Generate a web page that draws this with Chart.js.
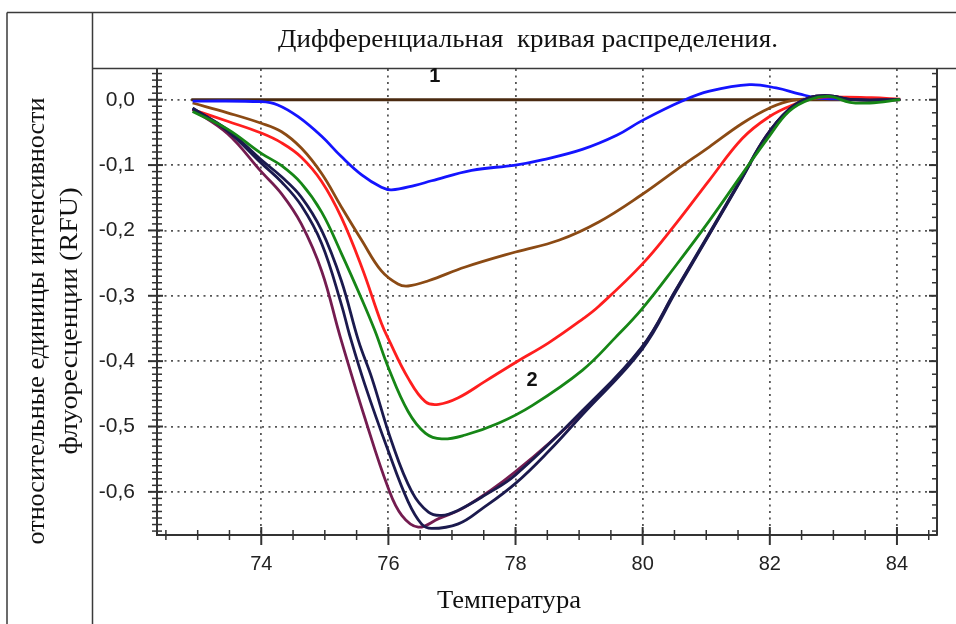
<!DOCTYPE html>
<html>
<head>
<meta charset="utf-8">
<script src="https://cdn.jsdelivr.net/npm/chart.js@4.4.1/dist/chart.umd.min.js"></script>
<style>
  html, body { margin: 0; padding: 0; background: #fff; }
  #chart { display: block; }
</style>
</head>
<body>
<canvas id="chart" width="956" height="624"></canvas>
<script>
// tick labels
const xTickValues = [74, 76, 78, 80, 82, 84];
const yTickValues = [0, -0.1, -0.2, -0.3, -0.4, -0.5, -0.6];
const yTickLabels = ['0,0', '-0,1', '-0,2', '-0,3', '-0,4', '-0,5', '-0,6'];

// curve 1 (flat line)
const flatT = [72.9, 84.05];
const flatV = [0, 0];

const blueT = [72.92, 74.0, 74.26, 74.58, 74.95, 75.26, 75.58, 75.89, 76.05, 76.42, 76.68, 77.31, 78.0, 78.42, 79.05, 79.6, 79.99, 80.62, 81.05, 81.68, 82.1, 82.46, 82.73, 83.1, 83.6, 84.05];
const blueV = [-0.002, -0.003, -0.008, -0.026, -0.056, -0.087, -0.115, -0.134, -0.138, -0.131, -0.124, -0.108, -0.1, -0.092, -0.076, -0.054, -0.032, -0.002, 0.013, 0.023, 0.018, 0.009, 0.003, 0.001, 0.001, 0.0];

const brownT = [72.92, 73.47, 74.0, 74.32, 74.63, 74.95, 75.26, 75.58, 75.89, 76.15, 76.31, 76.63, 77.21, 78.0, 78.68, 79.31, 79.99, 80.52, 81.05, 81.57, 81.99, 82.36, 83.0, 84.05];
const brownV = [-0.005, -0.02, -0.036, -0.049, -0.074, -0.113, -0.164, -0.215, -0.262, -0.282, -0.285, -0.277, -0.256, -0.233, -0.215, -0.187, -0.145, -0.108, -0.072, -0.036, -0.013, -0.001, 0.001, 0.0];

const redT = [72.92, 73.47, 74.0, 74.32, 74.63, 74.95, 75.26, 75.58, 75.89, 76.0, 76.31, 76.58, 76.79, 77.1, 77.52, 78.0, 78.52, 79.05, 79.31, 79.99, 80.52, 81.05, 81.57, 81.99, 82.36, 82.73, 83.2, 83.6, 84.05];
const redV = [-0.015, -0.033, -0.051, -0.066, -0.088, -0.125, -0.18, -0.256, -0.342, -0.366, -0.426, -0.462, -0.466, -0.456, -0.431, -0.402, -0.372, -0.336, -0.316, -0.252, -0.19, -0.123, -0.059, -0.026, -0.008, 0.003, 0.004, 0.003, 0.001];

const greenT = [72.92, 73.47, 74.0, 74.32, 74.63, 74.95, 75.26, 75.58, 75.79, 76.0, 76.31, 76.58, 76.84, 77.21, 77.73, 78.26, 79.05, 79.57, 79.99, 80.52, 81.05, 81.57, 81.99, 82.3, 82.62, 82.94, 83.26, 83.57, 84.05];
const greenV = [-0.018, -0.045, -0.082, -0.101, -0.128, -0.172, -0.235, -0.305, -0.354, -0.41, -0.477, -0.51, -0.519, -0.513, -0.495, -0.468, -0.414, -0.364, -0.32, -0.254, -0.185, -0.113, -0.056, -0.018, 0.0, 0.005, -0.004, -0.005, 0.0];

const purpleT = [72.92, 73.47, 74.0, 74.32, 74.63, 74.95, 75.24, 75.63, 76.0, 76.21, 76.47, 76.79, 77.21, 78.0, 79.05, 79.99, 80.52, 81.05, 81.57, 81.94, 82.3, 82.62, 82.94, 83.3, 84.05];
const purpleV = [-0.015, -0.052, -0.11, -0.144, -0.19, -0.262, -0.362, -0.487, -0.595, -0.636, -0.654, -0.641, -0.623, -0.569, -0.478, -0.379, -0.292, -0.205, -0.118, -0.056, -0.015, 0.003, 0.006, 0.0, 0.0];

const navyAT = [72.92, 73.47, 74.0, 74.32, 74.63, 74.95, 75.26, 75.39, 75.63, 76.0, 76.31, 76.52, 76.68, 77.1, 77.47, 78.0, 78.52, 79.05, 79.99, 80.52, 81.05, 81.57, 81.94, 82.3, 82.62, 82.94, 83.3, 84.05];
const navyAV = [-0.013, -0.048, -0.097, -0.126, -0.162, -0.22, -0.313, -0.36, -0.436, -0.538, -0.615, -0.649, -0.656, -0.649, -0.626, -0.587, -0.538, -0.482, -0.382, -0.294, -0.206, -0.119, -0.057, -0.015, 0.003, 0.006, 0.0, 0.0];

const navyBT = [72.92, 73.47, 74.0, 74.32, 74.63, 74.95, 75.26, 75.53, 75.74, 76.05, 76.37, 76.63, 76.84, 77.1, 77.52, 78.0, 79.05, 79.99, 80.52, 81.05, 81.57, 81.94, 82.3, 82.62, 82.94, 83.3, 84.05];
const navyBV = [-0.013, -0.046, -0.092, -0.118, -0.149, -0.2, -0.277, -0.369, -0.426, -0.523, -0.6, -0.631, -0.636, -0.628, -0.605, -0.574, -0.476, -0.378, -0.291, -0.204, -0.117, -0.056, -0.015, 0.003, 0.006, 0.0, 0.0];

function pts(ts, vs) {
  return ts.map((t, i) => ({ x: t, y: vs[i] }));
}

function line(ctx, x1, y1, x2, y2) {
  ctx.beginPath();
  ctx.moveTo(x1, y1);
  ctx.lineTo(x2, y2);
  ctx.stroke();
}

// draws text stretched to a given width (the source fonts are narrow)
function fitText(ctx, text, cx, cy, w, font, rotate) {
  ctx.save();
  ctx.font = font;
  ctx.fillStyle = '#111';
  ctx.textAlign = 'center';
  ctx.textBaseline = 'middle';
  ctx.translate(cx, cy);
  if (rotate) ctx.rotate(-Math.PI / 2);
  const m = ctx.measureText(text).width;
  ctx.scale(w / m, 1);
  ctx.fillText(text, 0, 0);
  ctx.restore();
}

const decor = {
  id: 'decor',
  afterDraw(chart) {
    const { ctx, chartArea: a, scales: { x, y } } = chart;
    ctx.save();

    // table frame
    ctx.strokeStyle = '#3a3a3a';
    ctx.lineWidth = 1.5;
    line(ctx, 7, 624, 7, 12.5);
    line(ctx, 7, 12.5, 956, 12.5);
    line(ctx, 92.5, 12.5, 92.5, 624);
    line(ctx, 92.5, 68.5, 956, 68.5);

    // right axis
    ctx.strokeStyle = '#333';
    ctx.lineWidth = 2;
    line(ctx, a.right, a.top, a.right, a.bottom);

    // y ticks, left crossing and right inward
    for (let k = Math.ceil(y.min * 100); k <= Math.floor(y.max * 100); k++) {
      const py = y.getPixelForValue(k / 100);
      const major = k % 10 === 0;
      ctx.lineWidth = major ? 2 : 1.5;
      line(ctx, a.left - (major ? 9 : 5), py, a.left + (major ? 6 : 5), py);
      if (k % 2 === 0) line(ctx, a.right - (major ? 8 : 5), py, a.right, py);
    }

    // x ticks every 0.5
    for (let k = Math.ceil(x.min * 2); k <= Math.floor(x.max * 2); k++) {
      const px = x.getPixelForValue(k / 2);
      const major = k % 4 === 0;
      ctx.lineWidth = major ? 2 : 1.5;
      line(ctx, px, a.bottom - (major ? 8 : 5), px, a.bottom + (major ? 10 : 5));
    }

    // curve numbers
    ctx.fillStyle = '#111';
    ctx.font = 'bold 20px "Liberation Sans"';
    ctx.textAlign = 'center';
    ctx.textBaseline = 'middle';
    ctx.fillText('1', x.getPixelForValue(76.73), y.getPixelForValue(0.035));
    ctx.fillText('2', x.getPixelForValue(78.26), y.getPixelForValue(-0.43));
    ctx.restore();

    // titles
    const serif = '25px "Liberation Serif"';
    fitText(ctx, 'Дифференциальная  кривая распределения.', 528, 40, 500, serif, false);
    fitText(ctx, 'Температура', 509, 601, 144, serif, false);
    fitText(ctx, 'относительные единицы интенсивности', 37, 321, 447, serif, true);
    fitText(ctx, 'флуоресценции (RFU)', 70, 321, 267, serif, true);
  }
};

const curve = (data, color, width) => ({
  data: data,
  borderColor: color,
  borderWidth: width || 2.8,
  pointRadius: 0,
  fill: false,
  tension: 0.4
});

new Chart(document.getElementById('chart'), {
  type: 'line',
  data: {
    datasets: [
      curve(pts(greenT, greenV), '#168616'),
      curve(pts(navyBT, navyBV), '#1b1a4e'),
      curve(pts(navyAT, navyAV), '#1b1a4e'),
      curve(pts(purpleT, purpleV), '#741c50'),
      curve(pts(redT, redV), '#ff1e1e'),
      curve(pts(blueT, blueV), '#1414ff'),
      curve(pts(brownT, brownV), '#8b4a14'),
      curve(pts(flatT, flatV), '#4a2a10', 3)
    ]
  },
  options: {
    responsive: false,
    animation: false,
    events: [],
    layout: { padding: { left: 0, right: 19, top: 69, bottom: 0 } },
    plugins: {
      legend: { display: false },
      title: { display: false },
      tooltip: { enabled: false }
    },
    scales: {
      x: {
        type: 'linear',
        min: 72.36,
        max: 84.63,
        afterFit: s => { s.height = 89; },
        afterBuildTicks: s => { s.ticks = xTickValues.map(v => ({ value: v })); },
        ticks: {
          font: { family: 'Liberation Sans', size: 20 },
          color: '#222',
          padding: 17,
          maxRotation: 0,
          autoSkip: false
        },
        grid: { drawTicks: false, color: '#555', lineWidth: 1.8 },
        border: { display: true, color: '#333', width: 2, dash: [2, 4.5] }
      },
      y: {
        min: -0.666,
        max: 0.047,
        afterFit: s => { s.width = 157; },
        afterBuildTicks: s => { s.ticks = yTickValues.map(v => ({ value: v })); },
        ticks: {
          font: { family: 'Liberation Sans', size: 21 },
          color: '#222',
          padding: 22,
          autoSkip: false,
          callback: (v, i) => yTickLabels[i]
        },
        grid: { drawTicks: false, color: '#555', lineWidth: 1.8 },
        border: { display: true, color: '#333', width: 2, dash: [2, 4.5] }
      }
    }
  },
  plugins: [decor]
});
</script>
</body>
</html>
